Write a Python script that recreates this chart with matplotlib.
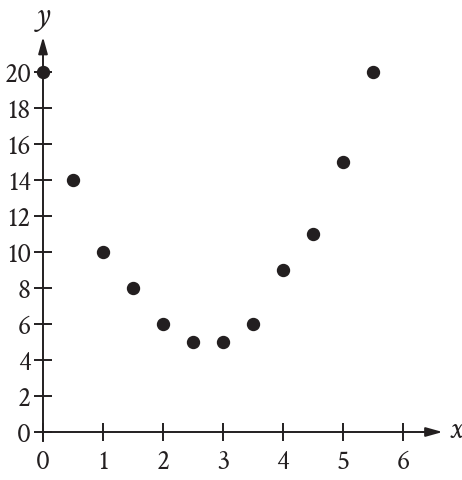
import matplotlib
matplotlib.use("Agg")
import matplotlib.pyplot as plt

x_vals = [0, 0.5, 1, 1.5, 2, 2.5, 3, 3.5, 4, 4.5, 5, 5.5]
y_vals = [20, 14, 10, 8, 6, 5, 5, 6, 9, 11, 15, 20]
x_ticks = [0, 1, 2, 3, 4, 5, 6]
y_ticks = [0, 2, 4, 6, 8, 10, 12, 14, 16, 18, 20]

plt.rcParams['font.family'] = ['Crimson Text', 'Liberation Serif', 'DejaVu Serif']

fig = plt.figure(figsize=(4.62, 4.80), dpi=100)
ax = fig.add_axes([0, 0, 1, 1])
# pixel mapping: x=0 at 43px, 60px/unit; y=0 at 432px (from top), 18px/unit
ax.set_xlim(-43 / 60, (462 - 43) / 60)
ax.set_ylim(-48 / 18, 432 / 18)
ax.patch.set_visible(False)

for s in ['top', 'right']:
    ax.spines[s].set_visible(False)
ax.spines['left'].set_position(('data', 0))
ax.spines['bottom'].set_position(('data', 0))
lc = '#231f20'
lw = 1.4
ax.spines['left'].set_bounds(-0.5, 21.3)
ax.spines['bottom'].set_bounds(0, 6.4)
ax.spines['left'].set_color(lc)
ax.spines['bottom'].set_color(lc)
ax.spines['left'].set_linewidth(lw)
ax.spines['bottom'].set_linewidth(lw)

ax.set_xticks(x_ticks)
ax.set_yticks(y_ticks)
ax.tick_params(axis='both', direction='inout', length=13, width=lw, color=lc,
               labelsize=20, labelcolor=lc)
ax.tick_params(axis='x', pad=6)
ax.tick_params(axis='y', pad=2)

# arrows
ax.annotate('', xy=(6.66, 0), xytext=(6.3, 0),
            arrowprops=dict(arrowstyle='-|>,head_length=1.0,head_width=0.28',
                            color=lc, lw=lw, shrinkA=0, shrinkB=0))
ax.annotate('', xy=(0, 21.95), xytext=(0, 21.0),
            arrowprops=dict(arrowstyle='-|>,head_length=1.0,head_width=0.28',
                            color=lc, lw=lw, shrinkA=0, shrinkB=0))

ax.text(6.88, 0.05, 'x', fontsize=23, style='italic', ha='center', va='center', color=lc)
ax.text(0, 23.05, 'y', fontsize=23, style='italic', ha='center', va='center', color=lc)

ax.plot(x_vals, y_vals, 'o', color=lc, markersize=8.6, clip_on=False, zorder=5)

fig.savefig('out.png', dpi=100)
